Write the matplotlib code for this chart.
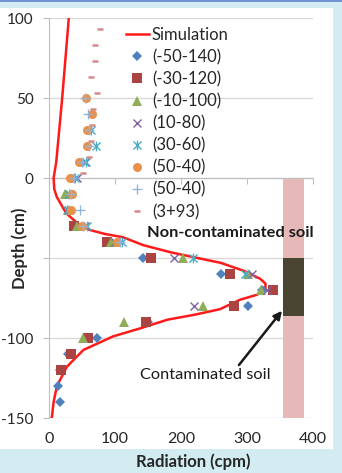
import matplotlib
matplotlib.use('Agg')
import matplotlib.pyplot as plt
from matplotlib.patches import Rectangle
from matplotlib.path import Path

# ---- data ----
sim_x = [30, 20, 11, 7, 8, 12, 26, 45, 62, 85, 112, 143, 185, 225, 260, 295, 320, 328,
         328, 315, 290, 259, 220, 180, 138, 97, 52, 27, 12, 7, 4.5, 4]
sim_y = [100, 50, 10, 0, -7, -12, -22, -29, -32.5, -35, -37, -42, -46.5, -50, -53, -58, -63, -66,
         -70, -73, -76, -82, -85.5, -88.5, -94, -99, -107.5, -118, -130, -140, -149, -150]

depth_d = [-50, -60, -70, -80, -90, -100, -110, -120, -130, -140]
rad_d = [143, 260, 322, 301, 150, 73, 29, 17, 14, 17]

depth_s = [-30, -40, -50, -60, -70, -80, -90, -100, -110, -120]
rad_s = [38, 88, 155, 274, 339, 280, 147, 59, 34, 18]

depth_t = [-10, -20, -30, -40, -50, -60, -70, -80, -90, -100]
rad_t = [24, 30, 43, 94, 203, 302, 321, 233, 114, 52]

depth_x = [10, 0, -10, -20, -30, -40, -50, -60, -70, -80]
rad_x = [55, 42, 30, 29, 55, 100, 190, 307, 330, 220]

depth_a = [30, 20, 10, 0, -10, -20, -30, -40, -50, -60]
rad_a = [63, 71, 56, 40, 30, 28, 58, 110, 218, 297]

depth_c = [50, 40, 30, 20, 10, 0, -10, -20, -30, -40]
rad_c = [56, 65, 58, 58, 46, 32, 35, 33, 50, 103]

depth_p = [50, 40, 30, 20, 10, 0, -10, -20, -30, -40]
rad_p = [55, 59, 60, 60, 50, 38, 33, 47, 52, 108]

depth_m = [93, 83, 73, 63, 53, 43, 33, 23, 13, 3]
rad_m = [77, 70, 69, 63, 73, 67, 65, 63, 61, 52]

labels = ['Simulation', '(-50-140)', '(-30-120)', '(-10-100)', '(10-80)',
          '(30-60)', '(50-40)', '(50-40)', '(3+93)']

soil_x = [354, 387]
soil_depth = [-150, 0]
contam_depth = [-86, -50]

x_ticks = [0, 100, 200, 300, 400]
y_ticks = [-150, -100, -50, 0, 50, 100]
y_ticklabels = ['-150', '-100', '', '0', '50', '100']

# ---- figure ----
plt.rcParams['font.family'] = ['Lato', 'DejaVu Sans']
plt.rcParams['axes.unicode_minus'] = False
W, H = 342, 473
fig = plt.figure(figsize=(W / 100, H / 100), dpi=100)
fig.patch.set_facecolor('#d2ecf1')
fig.patches.append(Rectangle((0, 24 / H), 333 / W, (449 - 8) / H, transform=fig.transFigure,
                             facecolor='white', edgecolor='none', zorder=-2))
fig.patches.append(Rectangle((0, 1 - 2 / H), 1, 2 / H, transform=fig.transFigure,
                             facecolor='#7391d1', edgecolor='none', zorder=-1))

ax = fig.add_axes([49 / W, 1 - 418 / H, (313 - 49) / W, (418 - 18) / H])
ax.set_facecolor('none')
ax.set_xlim(x_ticks[0], x_ticks[-1])
ax.set_ylim(y_ticks[0], y_ticks[-1])

# soil column
ax.add_patch(Rectangle((soil_x[0], soil_depth[0]), soil_x[1] - soil_x[0],
                       soil_depth[1] - soil_depth[0], facecolor='#e6b9b8',
                       edgecolor='none', zorder=1))
ax.add_patch(Rectangle((soil_x[0], contam_depth[0]), soil_x[1] - soil_x[0],
                       contam_depth[1] - contam_depth[0], facecolor='#4a4532',
                       edgecolor='none', zorder=1.1))

ax.set_yticks(y_ticks)
ax.set_yticklabels(y_ticklabels)
ax.set_xticks(x_ticks)
ax.grid(axis='y', color='#d9d9d9', lw=1, zorder=0)
ax.set_axisbelow(True)
for s in ['top', 'right']:
    ax.spines[s].set_visible(False)
ax.spines['left'].set_color('#bfbfbf')
ax.spines['bottom'].set_color('#bfbfbf')
ax.spines['bottom'].set_position(('data', 0))
ax.tick_params(axis='x', length=4, color='#bfbfbf', labelbottom=False)
ax.tick_params(axis='y', length=4, color='#bfbfbf', labelsize=11, labelcolor='#262626', pad=7)

sec = ax.secondary_xaxis('bottom')
sec.set_xticks(x_ticks)
sec.tick_params(length=0, labelsize=11.5, labelcolor='#262626', pad=10)
sec.spines['bottom'].set_visible(False)

fig.text(193 / W, 1 - 462 / H, 'Radiation (cpm)', fontsize=12, fontweight='bold',
         color='#262626', ha='center', va='center')
fig.text(20 / W, 1 - 248 / H, 'Depth (cm)', fontsize=12, fontweight='bold',
         color='#262626', ha='center', va='center', rotation=90)

star = Path([(-1, -1), (1, 1), (-1, 1), (1, -1), (0, -1.2), (0, 1.2)],
            [Path.MOVETO, Path.LINETO, Path.MOVETO, Path.LINETO, Path.MOVETO, Path.LINETO])

ax.plot(sim_x, sim_y, color='#ff1a1a', lw=1.8, label=labels[0], zorder=3)
ax.plot(rad_d, depth_d, ls='none', marker='D', ms=5, color='#4f81bd', mew=0, label=labels[1], zorder=4)
ax.plot(rad_s, depth_s, ls='none', marker='s', ms=6.5, color='#a94442', mew=0, label=labels[2], zorder=4)
ax.plot(rad_t, depth_t, ls='none', marker='^', ms=6.5, color='#8fae57', mew=0, label=labels[3], zorder=4)
ax.plot(rad_x, depth_x, ls='none', marker='x', ms=6, color='#8064a2', mew=1, label=labels[4], zorder=4)
ax.plot(rad_a, depth_a, ls='none', marker=star, ms=7, color='#4bacc6', mew=1, label=labels[5], zorder=4)
ax.plot(rad_c, depth_c, ls='none', marker='o', ms=6.5, color='#e9914a', mew=0, label=labels[6], zorder=4)
ax.plot(rad_p, depth_p, ls='none', marker='+', ms=7, color='#95b3d7', mew=1, label=labels[7], zorder=4)
ax.plot(rad_m, depth_m, ls='none', marker='_', ms=5, color='#d48a88', mew=1.8, label=labels[8], zorder=4)

ax.legend(loc='upper left', bbox_to_anchor=(126 / W, 1 - 27 / H), bbox_transform=fig.transFigure,
          frameon=False, fontsize=12, handlelength=1.35, handletextpad=0.2,
          labelspacing=0.36, borderpad=0, borderaxespad=0, labelcolor='#262626')

ax.text(274, -34.5, 'Non-contaminated soil', fontsize=11.8, fontweight='bold', color='#1a1a1a',
        ha='center', va='center', zorder=5)
ax.annotate('Contaminated soil', xy=(353, -83), xytext=(138, -123), fontsize=11.8,
            color='#1a1a1a', ha='left', va='center', zorder=5,
            arrowprops=dict(arrowstyle='-|>', color='#1a1a1a', lw=1.8, mutation_scale=12,
                            shrinkA=0, shrinkB=0, relpos=(0.74, 1.0)))

fig.savefig('out.png', dpi=100)
